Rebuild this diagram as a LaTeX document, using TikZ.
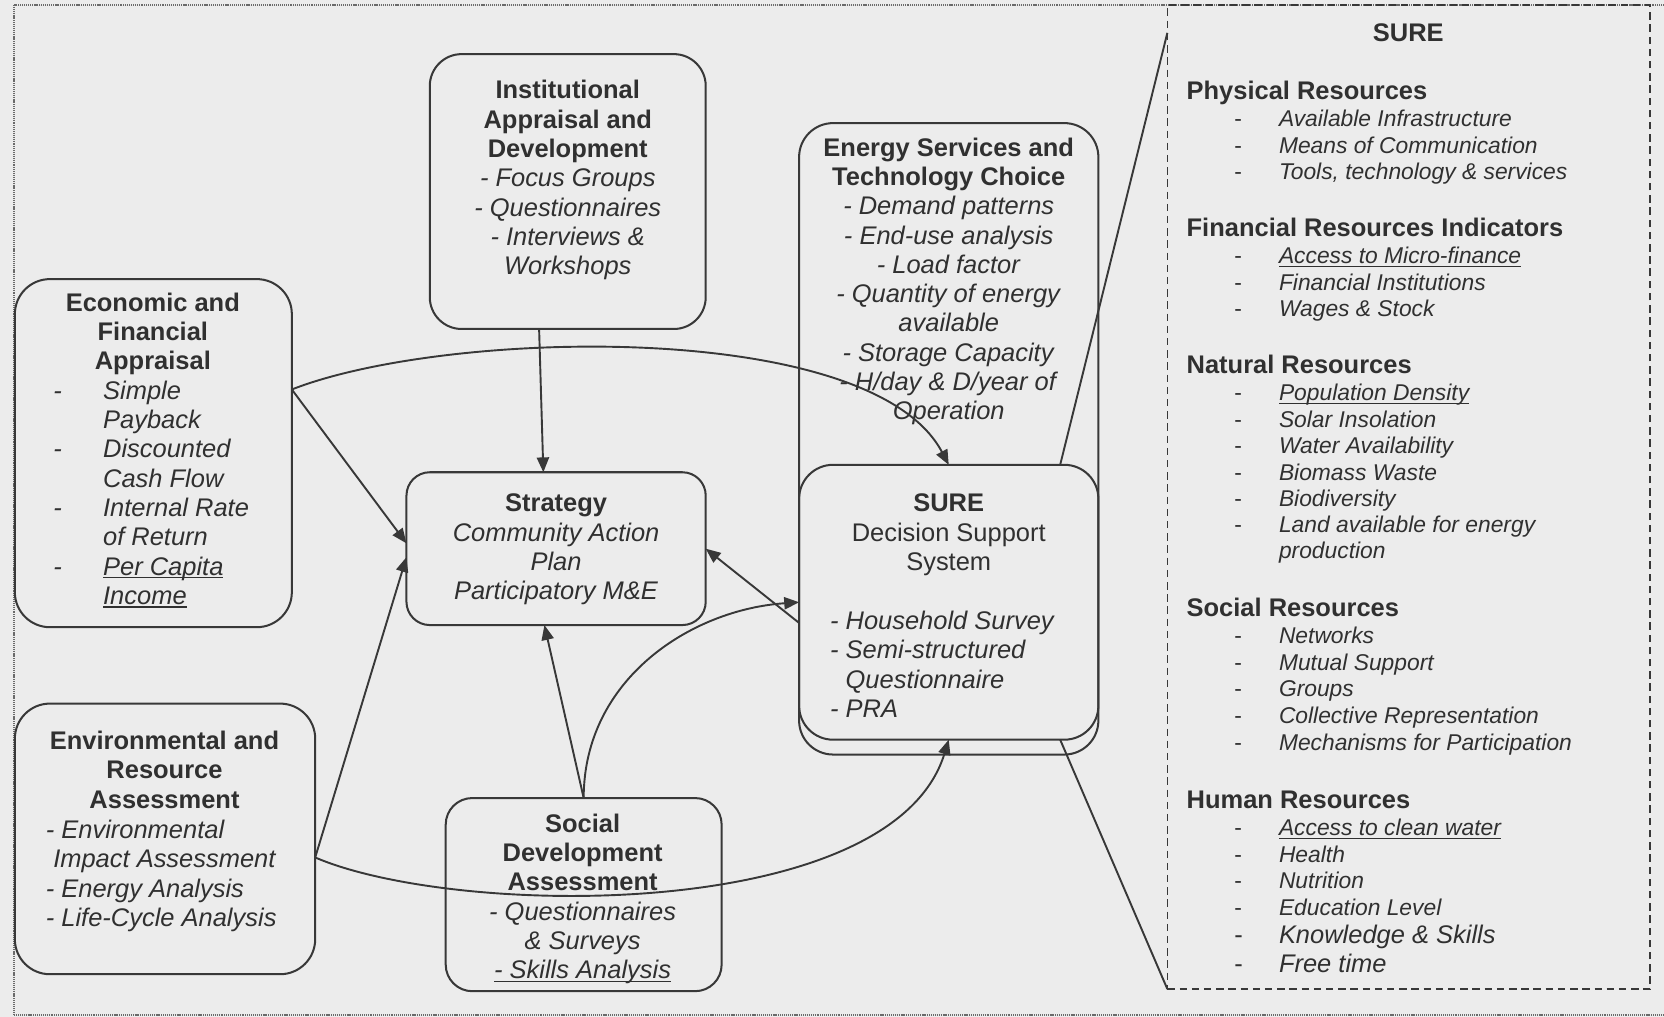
\documentclass[tikz,border=0pt]{standalone}
\usepackage{fontspec}
\setmainfont{Liberation Sans}
\usetikzlibrary{arrows.meta}
\definecolor{bg}{HTML}{ECECEC}
\definecolor{ink}{HTML}{383838}
\definecolor{txt}{HTML}{303030}
\definecolor{framegray}{HTML}{6A6A6A}
\newcommand{\undl}[1]{\setbox0\hbox{#1}\rlap{\rule[-3.2pt]{\wd0}{1.2pt}}\box0}
\newcommand{\bx}{\fontsize{24}{27.6}\selectfont}
\newcommand{\smf}{\fontsize{21.5}{25}\selectfont}
\newcommand{\phead}[3]{\node[phd] (#1) at (1118,#2+8) {#3};}
\newcommand{\pitem}[3]{\node[pit] (#1) at (1163,#2+7.5) {\makebox[42pt][l]{\upshape -}#3};}
\newcommand{\pbig}[3]{\node[pit, font=\bx\itshape] (#1) at (1163,#2+8) {\makebox[42pt][l]{\upshape -}#3};}
\begin{document}
\begin{tikzpicture}[x=1pt,y=-1pt,
  box/.style={draw=ink, line width=1.9pt, rectangle, rounded corners=#1, inner sep=0pt, outer sep=0pt},
  box/.default=30pt,
  tip/.style={-{Triangle[length=14pt,width=11.5pt]}},
  conn/.style={draw=ink, line width=1.8pt},
  ctext/.style={text=txt, font=\bx, align=center, inner sep=0pt, anchor=north},
  ltext/.style={text=txt, font=\bx\itshape, align=left, inner sep=0pt, anchor=north west},
  phd/.style={text=txt, font=\bx\bfseries, inner sep=0pt, anchor=base west},
  pit/.style={text=txt, font=\smf\itshape, inner sep=0pt, anchor=base west},
]
\useasboundingbox (0,0) rectangle (1568,958);
\fill[bg] (0,0) rectangle (1568,958);
% outer dotted frame
\draw[framegray, line width=1.6pt, dash pattern=on 1pt off 0.8pt] (1568,4.5) -- (13,4.5) -- (13,956.5) -- (1568,956.5);

% boxes
\node[box=30pt, minimum width=260pt, minimum height=259pt] (inst) at (535,180.5) {};
\node[box=33pt, minimum width=261pt, minimum height=328pt] (eco) at (144.5,427) {};
\node[box=33pt, minimum width=283pt, minimum height=255pt] (env) at (155.5,790.5) {};
\node[box=22pt, minimum width=282pt, minimum height=144pt] (strat) at (524,517) {};
\node[box=25pt, minimum width=260pt, minimum height=182pt] (soc) at (550,843) {};
\node[box=32pt, minimum width=282pt, minimum height=595pt] (ener) at (894,413.5) {};
\node[box=32pt, minimum width=282pt, minimum height=259pt] (sure) at (894,567.5) {};
\node[draw=ink, line width=1.6pt, dash pattern=on 7pt off 4.5pt, minimum width=455pt, minimum height=927pt, inner sep=0pt, outer sep=0pt] (panel) at (1327.5,468.5) {};

% box texts
\node[ctext] (instT) at (535,73.7) {\strut\textbf{Institutional}\\\textbf{Appraisal and}\\\textbf{Development}\\\textit{- Focus Groups}\\\textit{- Questionnaires}\\\textit{- Interviews \&}\\\textit{Workshops}};
\node[ctext] (enerT) at (894,127.7) {\strut\textbf{Energy Services and}\\\textbf{Technology Choice}\\\textit{- Demand patterns}\\\textit{- End-use analysis}\\\textit{- Load factor}\\\textit{- Quantity of energy}\\\textit{available}\\\textit{- Storage Capacity}\\\textit{- H/day \& D/year of}\\\textit{Operation}};
\node[ctext] (sureT) at (894,462.7) {\strut\textbf{SURE}\\Decision Support\\System};
\node[ltext] (sureL) at (782,573.7) {\strut- Household Survey\\- Semi-structured\\\phantom{- }Questionnaire\\- PRA};
\node[ctext] (stratT) at (524,462.7) {\strut\textbf{Strategy}\\\textit{Community Action}\\\textit{Plan}\\\textit{Participatory M\&E}};
\node[ctext] (ecoT) at (144,273.7) {\strut\textbf{Economic and}\\\textbf{Financial}\\\textbf{Appraisal}};
\node[ltext] (ecoL) at (50,356.7) {\strut\makebox[47pt][l]{-}Simple\\\hspace*{47pt}Payback\\\makebox[47pt][l]{-}Discounted\\\hspace*{47pt}Cash Flow\\\makebox[47pt][l]{-}Internal Rate\\\hspace*{47pt}of Return\\\makebox[47pt][l]{-}\undl{Per Capita}\\\hspace*{47pt}\undl{Income}};
\node[ctext] (envT) at (155,686.7) {\strut\textbf{Environmental and}\\\textbf{Resource}\\\textbf{Assessment}};
\node[ltext] (envL) at (43,770.7) {\strut- Environmental\\\hspace*{7pt}Impact Assessment\\- Energy Analysis\\- Life-Cycle Analysis};
\node[ctext] (socT) at (549,764.7) {\strut\textbf{Social}\\\textbf{Development}\\\textbf{Assessment}\\\textit{- Questionnaires}\\\textit{\& Surveys}\\\textit{\undl{- Skills Analysis}}};

% resource panel
\node[text=txt, font=\bx\bfseries, inner sep=0pt, anchor=base] (pT) at (1327,39) {SURE};
\phead{h1}{86}{Physical Resources}
\pitem{a1}{112}{Available Infrastructure}
\pitem{a2}{137}{Means of Communication}
\pitem{a3}{162}{Tools, technology \& services}
\phead{h2}{215}{Financial Resources Indicators}
\pitem{b1}{241}{\undl{Access to Micro-finance}}
\pitem{b2}{266}{Financial Institutions}
\pitem{b3}{291}{Wages \& Stock}
\phead{h3}{344}{Natural Resources}
\pitem{c1}{370}{\undl{Population Density}}
\pitem{c2}{395}{Solar Insolation}
\pitem{c3}{420}{Water Availability}
\pitem{c4}{445}{Biomass Waste}
\pitem{c5}{470}{Biodiversity}
\pitem{c6}{494}{Land available for energy}
\node[pit] (c7) at (1205,519+7.5) {production};
\phead{h4}{573}{Social Resources}
\pitem{d1}{599}{Networks}
\pitem{d2}{624}{Mutual Support}
\pitem{d3}{649}{Groups}
\pitem{d4}{674}{Collective Representation}
\pitem{d5}{700}{Mechanisms for Participation}
\phead{h5}{754}{Human Resources}
\pitem{e1}{780}{\undl{Access to clean water}}
\pitem{e2}{805}{Health}
\pitem{e3}{830}{Nutrition}
\pitem{e4}{855}{Education Level}
\pbig{e5}{881}{Knowledge \& Skills}
\pbig{e6}{908}{Free time}

% connectors
\draw[conn,tip] ([xshift=-27pt]inst.south) -- ([xshift=-12pt]strat.north);
\draw[conn,tip] ([yshift=60pt]eco.east) -- ([yshift=5pt]strat.west);
\draw[conn,tip] ([yshift=60pt]eco.east) .. controls +(145,-57) and +(-73,-138) .. (sure.north);
\draw[conn,tip] ([yshift=-17.5pt]env.east) -- ([yshift=-8pt]strat.west);
\draw[conn,tip] ([yshift=-17.5pt]env.east) .. controls +(133,57) and +(-53,173) .. (sure.south);
\draw[conn,tip] (soc.north) -- ([xshift=-11pt]strat.south);
\draw[conn,tip] (soc.north) .. controls +(0,-112) and +(-102,7) .. (sure.west);
\draw[conn,tip] ([yshift=-19.5pt]sure.west) -- (strat.east);
\draw[conn] ([xshift=-36pt]sure.north east) -- ([yshift=-26pt]panel.north west);
\draw[conn] ([xshift=-36pt]sure.south east) -- (panel.south west);
\end{tikzpicture}
\end{document}
